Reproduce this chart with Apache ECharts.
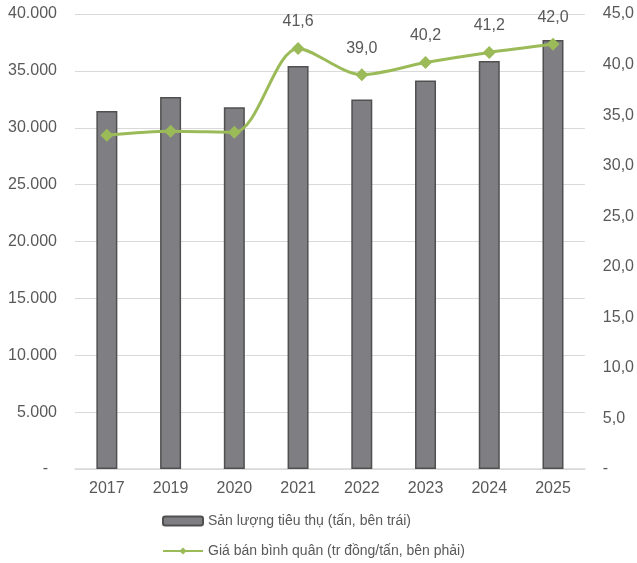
<!DOCTYPE html>
<html>
<head>
<meta charset="utf-8">
<script src="https://cdn.jsdelivr.net/npm/echarts@6/dist/echarts.min.js"></script>
<style>
html,body{margin:0;padding:0;background:#fff;}
#chart{width:637px;height:563px;}
</style>
</head>
<body>
<div id="chart"></div>
<script>
const categories = ['2017','2019','2020','2021','2022','2023','2024','2025'];
const volumeTons = [31480, 32710, 31800, 35420, 32480, 34160, 35860, 37710];
const avgPrice = [33.0, 33.4, 33.3, 41.6, 39.0, 40.2, 41.2, 42.0];
const labeledFrom = 3; // labels shown from 2021 on
const seriesNames = ['Sản lượng tiêu thụ (tấn, bên trái)', 'Giá bán bình quân (tr đồng/tấn, bên phải)'];

const FONT = '"Liberation Sans", Arial, sans-serif';
const TXT = '#595959';

const legendBase = {
  orient:'horizontal', left:157,
  itemWidth:40, itemHeight:9,
  textStyle:{fontSize:14, color:TXT, fontFamily:FONT}
};

const chart = echarts.init(document.getElementById('chart'), null, {renderer:'canvas'});
chart.setOption({
  animation:false,
  textStyle:{fontFamily:FONT},
  grid:{left:75, right:50, top:14, bottom:94, containLabel:false},
  legend:[
    Object.assign({}, legendBase, {top:509, data:[seriesNames[0]]}),
    Object.assign({}, legendBase, {top:539, data:[seriesNames[1]]})
  ],
  xAxis:{
    type:'category', data:categories,
    axisLine:{show:true, lineStyle:{color:'#d9d9d9', width:1.5}},
    axisTick:{show:false},
    axisLabel:{fontSize:16, color:TXT, margin:12, fontFamily:FONT}
  },
  yAxis:[{
    type:'value', min:0, max:40000, interval:5000,
    axisLine:{show:false}, axisTick:{show:false},
    splitLine:{lineStyle:{color:'#d9d9d9', width:1}},
    axisLabel:{fontSize:16, color:TXT, margin:18, fontFamily:FONT,
      formatter:v => v===0 ? '-  ' : v.toString().replace(/\B(?=(\d{3})+(?!\d))/g,'.')}
  },{
    type:'value', min:0, max:45, interval:5, position:'right',
    axisLine:{show:false}, axisTick:{show:false}, splitLine:{show:false},
    axisLabel:{fontSize:16, color:TXT, margin:18, fontFamily:FONT,
      formatter:v => v===0 ? '-' : v.toFixed(1).replace('.',',')}
  }],
  series:[{
    name:seriesNames[0], type:'bar', yAxisIndex:0, data:volumeTons,
    barWidth:21,
    itemStyle:{color:'#7f7f83', borderColor:'#505050', borderWidth:1.5}
  },{
    name:seriesNames[1], type:'line', yAxisIndex:1,
    data:avgPrice.map((v,i)=>({value:v, label:{show:i>=labeledFrom}})),
    smooth:0.3,
    symbol:'diamond', symbolSize:13,
    lineStyle:{color:'#9bbb59', width:3},
    itemStyle:{color:'#9bbb59'},
    label:{position:'top', distance:12, fontSize:16, color:TXT, fontFamily:FONT,
      formatter:p => p.value.toFixed(1).replace('.',',')},
    z:5
  }]
});
</script>
</body>
</html>
